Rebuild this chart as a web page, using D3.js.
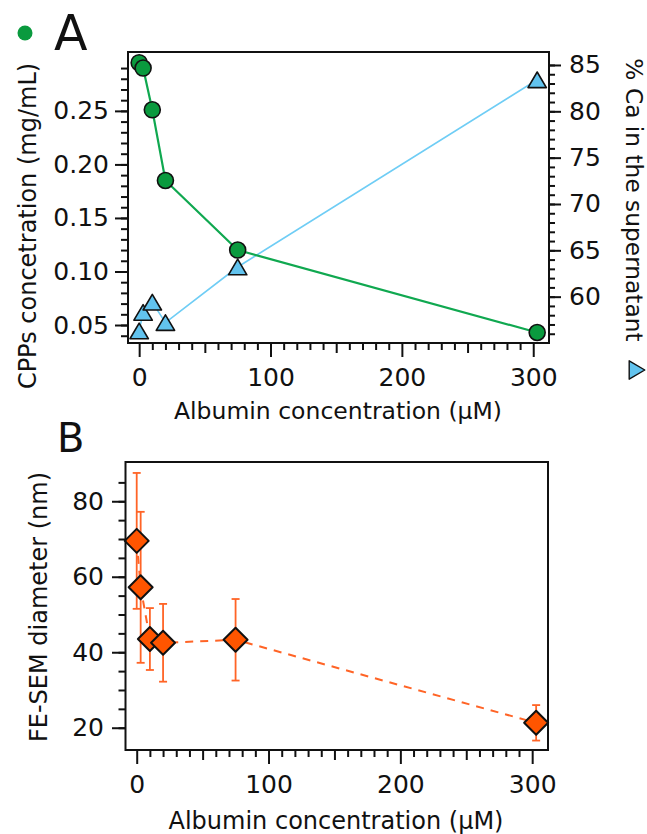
<!DOCTYPE html>
<html>
<head>
<meta charset="utf-8">
<script src="https://cdn.jsdelivr.net/npm/d3@7"></script>
<style>
  html, body { margin: 0; padding: 0; background: #fff; }
  svg { display: block; }
  text { font-family: "DejaVu Sans", Verdana, sans-serif; fill: #111; }
</style>
</head>
<body>
<svg id="chart" width="647" height="834"></svg>
<script>
// Albumin concentrations (µM) shared by both panels
const albumin = [0, 3, 10, 20, 75, 303];

// Panel A: CPP concentration (left axis) and % Ca in supernatant (right axis)
const cppConc = [0.295, 0.290, 0.251, 0.185, 0.120, 0.043];
const caSupernatant = [56.3, 58.3, 59.4, 57.2, 63.2, 83.4];

// Panel B: FE-SEM particle diameter with error
const diameter = [69.5, 57.2, 43.5, 42.5, 43.3, 21.3];
const diameterErr = [18, 20, 8.2, 10.3, 10.8, 4.7];

// Axis ranges and tick labels
const xDomain = [-8.5, 312];
const xTicks = [0, 100, 200, 300];
const cppDomain = [0.0332, 0.305];
const cppTicks = [0.05, 0.10, 0.15, 0.20, 0.25];
const caDomain = [55, 86.4];
const caTicks = [60, 65, 70, 75, 80, 85];
const diamDomain = [14.1, 90.4];
const diamTicks = [20, 40, 60, 80];

const xTitle = "Albumin concentration (\u03BCM)";
const cppTitle = "CPPs concetration (mg/mL)";
const caTitle = "% Ca in the supernatant";
const diamTitle = "FE-SEM diameter (nm)";

const GREEN = "#0a9a3e", GREEN_LINE = "#10a850";
const BLUE = "#62c3ee", BLUE_LINE = "#6fcdf5";
const ORANGE = "#ff5500", ORANGE_LINE = "#ff6426";
const TICK_FONT = 25;

const svg = d3.select("#chart");

// ---------- Panel A ----------
const A = { left: 128, right: 549, top: 52, bottom: 343 };
const xA = d3.scaleLinear().domain(xDomain).range([A.left, A.right]);
const yCpp = d3.scaleLinear().domain(cppDomain).range([A.bottom, A.top]);
const yCa = d3.scaleLinear().domain(caDomain).range([A.bottom, A.top]);

// ---------- Panel B ----------
const B = { left: 125.5, right: 548, top: 462, bottom: 750 };
const xB = d3.scaleLinear().domain(xDomain).range([B.left, B.right]);
const yD = d3.scaleLinear().domain(diamDomain).range([B.bottom, B.top]);

function styleAxis(g) {
  g.select(".domain").remove();
  g.selectAll("line").attr("stroke", "#111").attr("stroke-width", 2);
  g.selectAll("text").attr("font-size", TICK_FONT).attr("fill", "#111")
    .attr("font-family", '"DejaVu Sans", Verdana, sans-serif');
}

function xAxisLayer(scale, y) {
  const minor = d3.range(0, 301, 10).filter(v => v % 50 !== 0);
  const mid = [50, 150, 250];
  svg.append("g").attr("transform", `translate(0,${y})`)
    .call(d3.axisBottom(scale).tickValues(minor).tickSize(7).tickFormat(""))
    .call(styleAxis);
  svg.append("g").attr("transform", `translate(0,${y})`)
    .call(d3.axisBottom(scale).tickValues(mid).tickSize(10).tickFormat(""))
    .call(styleAxis);
  svg.append("g").attr("transform", `translate(0,${y})`)
    .call(d3.axisBottom(scale).tickValues(xTicks).tickSize(14).tickPadding(11).tickFormat(d3.format("d")))
    .call(styleAxis);
}

function frame(P) {
  svg.append("rect")
    .attr("x", P.left).attr("y", P.top)
    .attr("width", P.right - P.left).attr("height", P.bottom - P.top)
    .attr("fill", "none").attr("stroke", "#111").attr("stroke-width", 2);
}

// Panel A axes
xAxisLayer(xA, A.bottom);
svg.append("g").attr("transform", `translate(${A.left},0)`)
  .call(d3.axisLeft(yCpp).tickValues(yCpp.ticks(30).filter(v => v > 0.035 && v < 0.295)).tickSize(7).tickFormat(""))
  .call(styleAxis);
svg.append("g").attr("transform", `translate(${A.left},0)`)
  .call(d3.axisLeft(yCpp).tickValues(cppTicks).tickSize(13).tickPadding(6).tickFormat(d3.format(".2f")))
  .call(styleAxis);
svg.append("g").attr("transform", `translate(${A.right},0)`)
  .call(d3.axisRight(yCa).tickValues(yCa.ticks(30).filter(v => v > 55.5 && v <= 85)).tickSize(6).tickFormat(""))
  .call(styleAxis);
svg.append("g").attr("transform", `translate(${A.right},0)`)
  .call(d3.axisRight(yCa).tickValues(caTicks).tickSize(12).tickPadding(8).tickFormat(d3.format("d")))
  .call(styleAxis);

// Panel A series
const caPts = albumin.map((x, i) => [x, caSupernatant[i]]);
const cppPts = albumin.map((x, i) => [x, cppConc[i]]);

svg.append("path").datum(caPts)
  .attr("fill", "none").attr("stroke", BLUE_LINE).attr("stroke-width", 1.6)
  .attr("d", d3.line().x(d => xA(d[0])).y(d => yCa(d[1])));
svg.append("path").datum(cppPts)
  .attr("fill", "none").attr("stroke", GREEN_LINE).attr("stroke-width", 2.2)
  .attr("d", d3.line().x(d => xA(d[0])).y(d => yCpp(d[1])));

const triPath = "M0,-7.8L9.2,7.8L-9.2,7.8Z";
svg.append("g").selectAll("path").data(caPts).join("path")
  .attr("d", triPath)
  .attr("transform", d => `translate(${xA(d[0])},${yCa(d[1])})`)
  .attr("fill", BLUE).attr("stroke", "#111").attr("stroke-width", 1.6)
  .attr("stroke-linejoin", "round");
svg.append("g").selectAll("circle").data(cppPts).join("circle")
  .attr("cx", d => xA(d[0])).attr("cy", d => yCpp(d[1])).attr("r", 8)
  .attr("fill", GREEN).attr("stroke", "#111").attr("stroke-width", 1.6);

frame(A);

// Panel A labels
svg.append("circle").attr("cx", 25).attr("cy", 33).attr("r", 7.5).attr("fill", GREEN);
svg.append("text").attr("x", 54).attr("y", 50).attr("font-size", 49).text("A");
svg.append("text").attr("x", 338).attr("y", 419).attr("text-anchor", "middle")
  .attr("font-size", 23.5).text(xTitle);
svg.append("text").attr("transform", "translate(36,226) rotate(-90)")
  .attr("text-anchor", "middle").attr("font-size", 24).text(cppTitle);
svg.append("text").attr("transform", "translate(626,200) rotate(90)")
  .attr("text-anchor", "middle").attr("font-size", 23.3).text(caTitle);
svg.append("path").attr("d", triPath)
  .attr("transform", "translate(637,370) rotate(90)")
  .attr("fill", BLUE).attr("stroke", "#111").attr("stroke-width", 1.4)
  .attr("stroke-linejoin", "round");

// Panel B axes
xAxisLayer(xB, B.bottom);
svg.append("g").attr("transform", `translate(${B.left},0)`)
  .call(d3.axisLeft(yD).tickValues(yD.ticks(20).filter(v => v >= 20 && v <= 85)).tickSize(7).tickFormat(""))
  .call(styleAxis);
svg.append("g").attr("transform", `translate(${B.left},0)`)
  .call(d3.axisLeft(yD).tickValues(diamTicks).tickSize(13.5).tickPadding(8).tickFormat(d3.format("d")))
  .call(styleAxis);

// Panel B series
const dPts = albumin.map((x, i) => ({ x, y: diameter[i], e: diameterErr[i] }));
svg.append("path").datum(dPts)
  .attr("fill", "none").attr("stroke", ORANGE_LINE).attr("stroke-width", 2)
  .attr("stroke-dasharray", "8,7")
  .attr("d", d3.line().x(d => xB(d.x)).y(d => yD(d.y)));

const err = svg.append("g").attr("stroke", ORANGE_LINE).attr("stroke-width", 1.8);
err.selectAll("line.v").data(dPts).join("line").attr("class", "v")
  .attr("x1", d => xB(d.x)).attr("x2", d => xB(d.x))
  .attr("y1", d => yD(d.y - d.e)).attr("y2", d => yD(d.y + d.e));
err.selectAll("line.t").data(dPts).join("line").attr("class", "t")
  .attr("x1", d => xB(d.x) - 4).attr("x2", d => xB(d.x) + 4)
  .attr("y1", d => yD(d.y + d.e)).attr("y2", d => yD(d.y + d.e));
err.selectAll("line.b").data(dPts).join("line").attr("class", "b")
  .attr("x1", d => xB(d.x) - 4).attr("x2", d => xB(d.x) + 4)
  .attr("y1", d => yD(d.y - d.e)).attr("y2", d => yD(d.y - d.e));

svg.append("g").selectAll("path").data(dPts).join("path")
  .attr("d", "M0,-12L12,0L0,12L-12,0Z")
  .attr("transform", d => `translate(${xB(d.x)},${yD(d.y)})`)
  .attr("fill", ORANGE).attr("stroke", "#111").attr("stroke-width", 2)
  .attr("stroke-linejoin", "round");

frame(B);

// Panel B labels
svg.append("text").attr("x", 57).attr("y", 452).attr("font-size", 40).text("B");
svg.append("text").attr("x", 336).attr("y", 829).attr("text-anchor", "middle")
  .attr("font-size", 24).text(xTitle);
svg.append("text").attr("transform", "translate(47,607) rotate(-90)")
  .attr("text-anchor", "middle").attr("font-size", 24).text(diamTitle);
</script>
</body>
</html>
